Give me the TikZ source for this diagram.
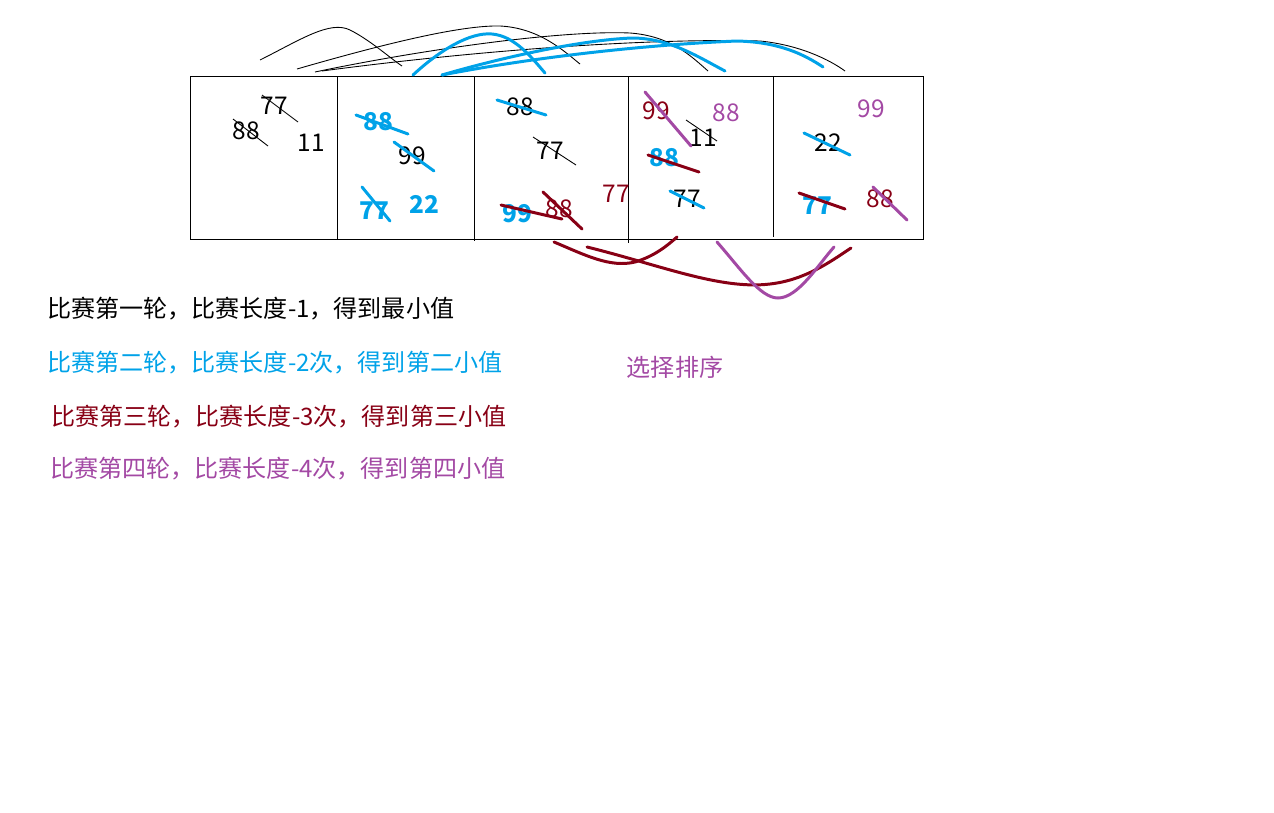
\documentclass[tikz,border=0pt]{standalone}
\usepackage{fontspec}
\usepackage{xcolor}
\usepackage{tikz}
\newfontfamily\cjk{Noto Sans CJK SC}
\definecolor{pblue}{HTML}{00A2E8}
\definecolor{pred}{HTML}{880015}
\definecolor{ppurple}{HTML}{A349A4}

\begin{document}
\begin{tikzpicture}[x=0.02cm, y=-0.02cm,
        every node/.style={font=\cjk\fontsize{13.9}{16}\selectfont, inner sep=0pt},
        pen/.style={black, line width=0.5pt},
        brush/.style={line width=1.7pt, line cap=round},
        note/.style={anchor=west, font=\cjk\fontsize{13.7}{16}\selectfont}]
        \useasboundingbox (0,0) rectangle (1274,812);
        % the five cells
        \draw[line width=0.5pt] (190,76) rectangle (923,239);
        \draw[line width=0.5pt] (337,76) -- (337,239);
        \draw[line width=0.5pt] (474,76) -- (474,241);
        \draw[line width=0.5pt] (628,76) -- (628,243);
        \draw[line width=0.5pt] (773,76) -- (773,237);
        % cell 1
        \node (c1a) at (274,106) {77};
        \node (c1b) at (246,131) {88};
        \node (c1c) at (311,143) {11};
        \draw[pen] (262,95) -- (298,122);
        \draw[pen] (233,119) -- (268,146);
        % cell 2
        \node[text=pblue, font=\cjk\bfseries\fontsize{13.9}{16}\selectfont] (c2a) at (378,122) {88};
        \node (c2b) at (412,156) {99};
        \node[text=pblue, font=\cjk\bfseries\fontsize{13.9}{16}\selectfont] (c2c) at (374,211) {77};
        \node[text=pblue, font=\cjk\bfseries\fontsize{13.9}{16}\selectfont] (c2d) at (424,204) {22};
        \draw[brush, pblue] (356,115) -- (408,134);
        \draw[brush, pblue] (394,142) -- (434,171);
        \draw[brush, pblue] (362,187) -- (390,221);
        % cell 3
        \node (c3a) at (520,107) {88};
        \node (c3b) at (550,151) {77};
        \node[text=pblue, font=\cjk\bfseries\fontsize{13.9}{16}\selectfont] (c3c) at (517,214) {99};
        \node[text=pred] (c3d) at (559,209) {88};
        \node[text=pred] (c3e) at (616,194) {77};
        \draw[brush, pblue] (497,100) -- (546,115);
        \draw[pen] (533,137) -- (576,165);
        \draw[brush, pred] (501,205) -- (562,219);
        \draw[brush, pred] (543,192) -- (582,229);
        % cell 4
        \node[text=pred] (c4a) at (656,111) {99};
        \node[text=ppurple] (c4b) at (726,113) {88};
        \node (c4c) at (703,138) {11};
        \node[text=pblue, font=\cjk\bfseries\fontsize{13.9}{16}\selectfont] (c4d) at (664,158) {88};
        \node (c4e) at (687,199) {77};
        \draw[brush, ppurple] (645,92) -- (691,146);
        \draw[pen] (686,120) -- (717,141);
        \draw[brush, pred] (648,155) -- (699,172);
        \draw[brush, pblue] (670,191) -- (704,208);
        % cell 5
        \node[text=ppurple] (c5a) at (871,109) {99};
        \node (c5b) at (828,143) {22};
        \node[text=pblue, font=\cjk\bfseries\fontsize{13.9}{16}\selectfont] (c5c) at (817,206) {77};
        \node[text=pred] (c5d) at (880,199) {88};
        \draw[brush, pblue] (804,133) -- (850,155);
        \draw[brush, pred] (799,193) -- (845,209);
        \draw[brush, ppurple] (873,187) -- (907,220);
        % arcs above
        \draw[pen] (260,60) .. controls (300,40) and (330,20) .. (350,30) .. controls (370,40) and (390,58) .. (402,66);
        \draw[pen] (297,69) .. controls (380,45) and (460,25) .. (500,26) .. controls (540,28) and (565,52) .. (580,64);
        \draw[pen] (315,72) .. controls (420,50) and (560,30) .. (630,33) .. controls (670,36) and (690,55) .. (708,71);
        \draw[pen] (322,71) .. controls (480,50) and (650,38) .. (760,41) .. controls (800,45) and (830,60) .. (845,71);
        \draw[brush, pblue] (413,75) .. controls (440,50) and (470,32) .. (492,34) .. controls (515,36) and (532,58) .. (545,73);
        \draw[brush, pblue] (442,75) .. controls (500,58) and (580,40) .. (632,38) .. controls (670,38) and (700,58) .. (725,71);
        \draw[brush, pblue] (442,75) .. controls (530,58) and (640,45) .. (737,41) .. controls (780,42) and (805,55) .. (823,67);
        % arcs below
        \draw[brush, pred] (554,242) .. controls (585,255) and (610,268) .. (635,262) .. controls (655,256) and (668,245) .. (677,237);
        \draw[brush, pred] (587,247) .. controls (660,265) and (720,290) .. (770,284) .. controls (805,280) and (830,262) .. (851,248);
        \draw[brush, ppurple] (717,242) .. controls (740,268) and (760,298) .. (778,298) .. controls (798,298) and (818,265) .. (834,247);
        % notes
        \node[note] (round1) at (47,309) {比赛第一轮，比赛长度-1，得到最小值};
        \node[note, text=pblue] (round2) at (47,363) {比赛第二轮，比赛长度-2次，得到第二小值};
        \node[note, text=pred] (round3) at (51,417) {比赛第三轮，比赛长度-3次，得到第三小值};
        \node[note, text=ppurple] (round4) at (50,469) {比赛第四轮，比赛长度-4次，得到第四小值};
        \node[text=ppurple, font=\cjk\fontsize{13.7}{16}\selectfont] (title) at (675,367) {选择排序};
\end{tikzpicture}
\end{document}
